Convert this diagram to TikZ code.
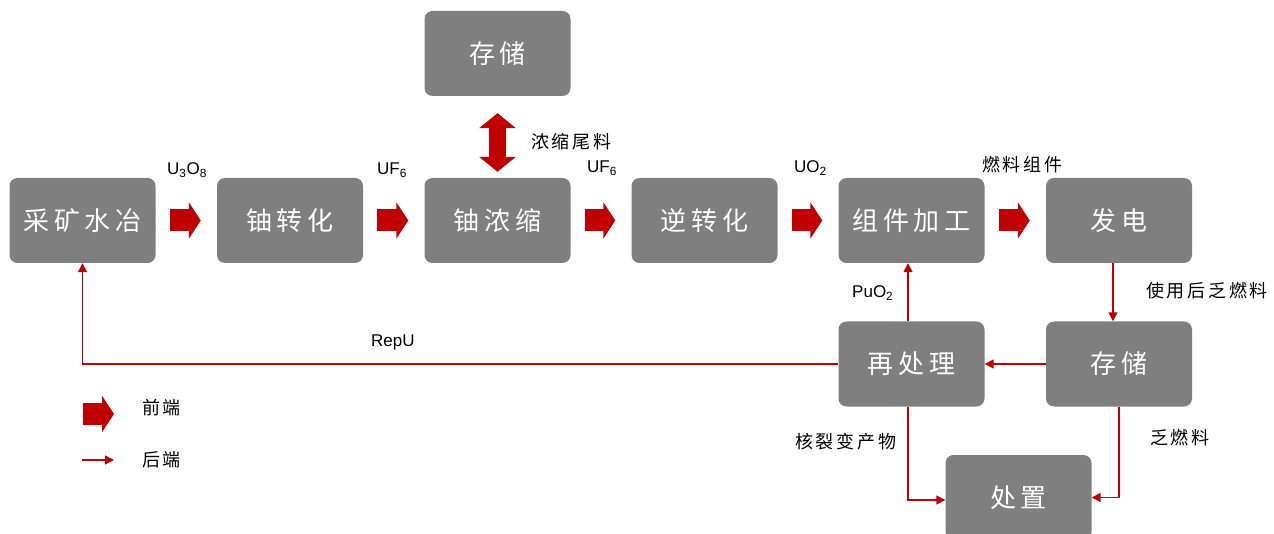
\documentclass[tikz,border=0pt]{standalone}
\usepackage{fontspec}
\setmainfont{Liberation Sans}
\newfontfamily\boxfont[LetterSpace=18]{Noto Sans CJK SC}
\newfontfamily\lblfont[LetterSpace=15]{Noto Sans CJK SC}
\usetikzlibrary{arrows.meta}
\definecolor{boxgray}{HTML}{7F7F7F}
\definecolor{flowred}{HTML}{C00000}
\begin{document}
\begin{tikzpicture}[x=1pt,y=-1pt,
 stage/.style={fill=boxgray, rounded corners=8pt, minimum width=146pt, minimum height=85pt, inner sep=0pt, text=white, font=\boxfont\fontsize{26}{30}\selectfont},
 frontarrow/.style={draw=flowred, line width=22pt, -{Triangle[length=12pt,width=36pt]}},
 botharrow/.style={draw=flowred, line width=17pt, {Triangle[length=15pt,width=36pt]}-{Triangle[length=15pt,width=36pt]}},
 backflow/.style={draw=flowred, line width=1.6pt, -{Triangle[length=9pt,width=9pt]}},
 note/.style={anchor=west, inner sep=0pt, font=\lblfont\fontsize{18}{20}\selectfont},
 chem/.style={anchor=west, inner sep=0pt, font=\fontsize{17}{20}\selectfont}]
\useasboundingbox (0,0) rectangle (1274,534);
\clip (0,0) rectangle (1274,534);

% stages
\node[stage] (mine)    at (82.5,220.5) {采矿水冶};
\node[stage] (conv)    at (290,220.5)  {铀转化};
\node[stage] (enrich)  at (497.5,220.5){铀浓缩};
\node[stage] (deconv)  at (704.5,220.5){逆转化};
\node[stage] (fab)     at (911.5,220.5){组件加工};
\node[stage] (power)   at (1119,220.5) {发电};
\node[stage] (storeT)  at (497.5,53.5) {存储};
\node[stage] (reproc)  at (911.5,364)  {再处理};
\node[stage] (storeR)  at (1119,364)   {存储};
\node[stage] (dispose) at (1018.5,497.5){处置};

% front-end block arrows
\draw[frontarrow] ([xshift=14pt]mine.east)   -- ([xshift=-16pt]conv.west);
\draw[frontarrow] ([xshift=14pt]conv.east)   -- ([xshift=-16pt]enrich.west);
\draw[frontarrow] ([xshift=14pt]enrich.east) -- ([xshift=-16pt]deconv.west);
\draw[frontarrow] ([xshift=14pt]deconv.east) -- ([xshift=-16pt]fab.west);
\draw[frontarrow] ([xshift=14pt]fab.east)    -- ([xshift=-16pt]power.west);
\draw[botharrow]  ([yshift=-17pt]storeT.south) -- ([yshift=6pt]enrich.north);

% back-end flows
\draw[backflow] ([xshift=-6pt]power.south) -- ([xshift=-6pt]storeR.north);
\draw[backflow] (storeR.west) -- (reproc.east);
\draw[backflow] ([xshift=-3.5pt]reproc.north) -- ([xshift=-3.5pt]fab.south);
\draw[backflow] (reproc.west) -| (mine.south);
\draw[backflow] ([xshift=-3.5pt]reproc.south) |- ([yshift=-2.5pt]dispose.west);
\draw[backflow] (storeR.south) |- (dispose.east);

% labels
\node[chem] (l1) at (167,170) {U\textsubscript{3}O\textsubscript{8}};
\node[chem] (l2) at (377,170) {UF\textsubscript{6}};
\node[note] (l3) at (531,142) {浓缩尾料};
\node[chem] (l4) at (587,168) {UF\textsubscript{6}};
\node[chem] (l5) at (794,168) {UO\textsubscript{2}};
\node[note] (l6) at (982,165) {燃料组件};
\node[chem] (l7) at (852,293) {PuO\textsubscript{2}};
\node[note] (l8) at (1146,291) {使用后乏燃料};
\node[chem] (l9) at (371,342) {RepU};
\node[note] (l10) at (795,442) {核裂变产物};
\node[note] (l11) at (1150,438) {乏燃料};

% legend
\coordinate (lgA) at (83,414);
\coordinate (lgB) at (114,414);
\coordinate (lgC) at (82,460);
\coordinate (lgD) at (114,460);
\draw[frontarrow] (lgA) -- (lgB);
\draw[backflow] (lgC) -- (lgD);
\node[note] (lg1) at (142,408) {前端};
\node[note] (lg2) at (142,460) {后端};
\end{tikzpicture}
\end{document}
